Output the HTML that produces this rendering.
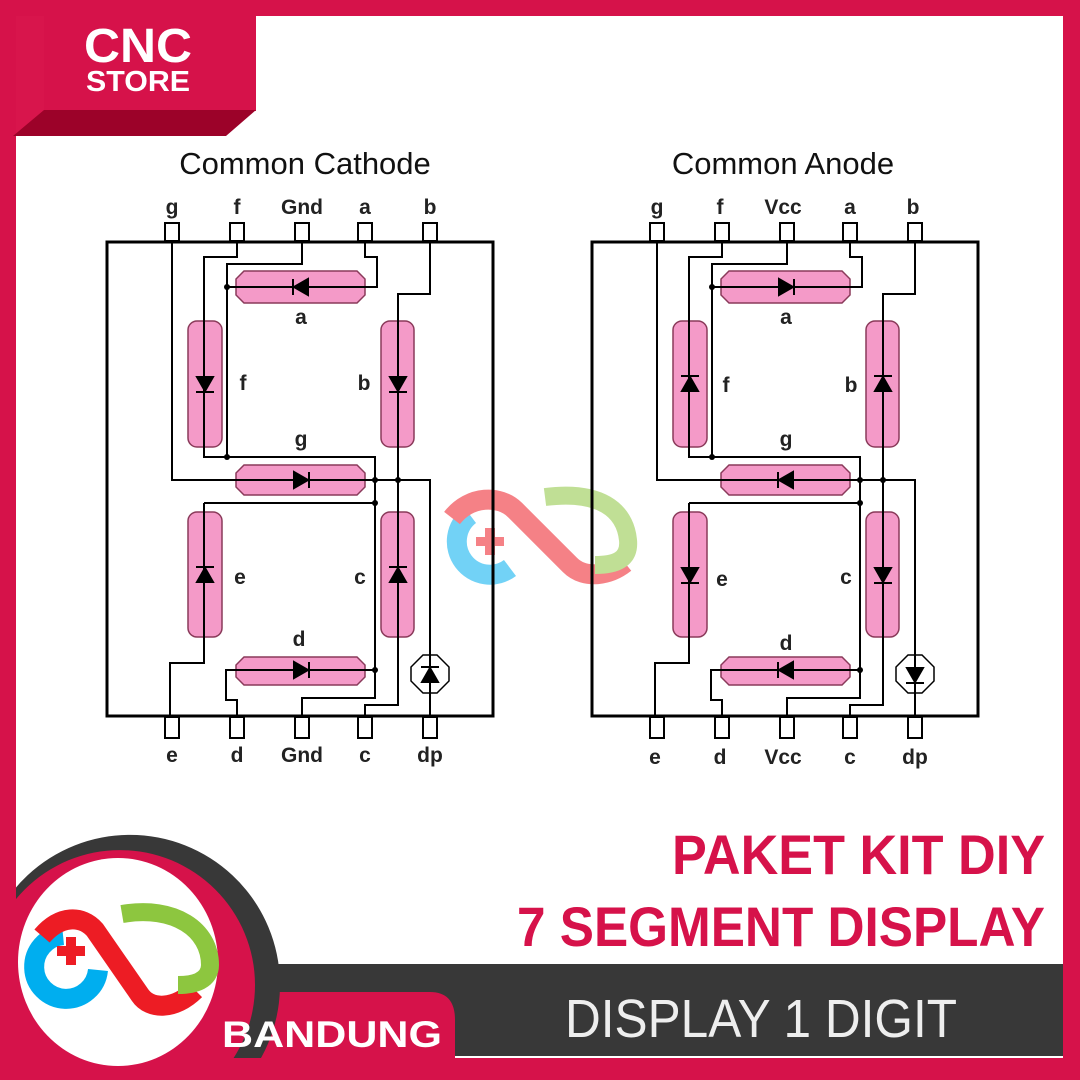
<!DOCTYPE html>
<html><head><meta charset="utf-8"><style>
html,body{margin:0;padding:0;background:#fff;width:1080px;height:1080px;overflow:hidden}
body{position:relative}
svg{position:absolute;left:0;top:0;display:block}
</style></head><body>
<svg width="1080" height="1080" viewBox="0 0 1080 1080" xmlns="http://www.w3.org/2000/svg">
<rect width="1080" height="1080" fill="#fff"/>
<rect x="0" y="0" width="1080" height="16" fill="#d6124a"/>
<rect x="0" y="0" width="16" height="1080" fill="#d6124a"/>
<rect x="1063" y="0" width="17" height="1080" fill="#d6124a"/>
<rect x="0" y="1058" width="1080" height="22" fill="#d6124a"/>
<rect x="16" y="16" width="30" height="120" fill="#d8154c"/>
<rect x="44" y="16" width="212" height="95" fill="#d6124a"/>
<polygon points="13,136 44,110 256,110 226,136" fill="#9c0229"/>
<text x="138" y="62" text-anchor="middle" font-family="Liberation Sans, sans-serif" font-weight="bold" font-size="48" fill="#fff" textLength="108" lengthAdjust="spacingAndGlyphs">CNC</text>
<text x="138" y="91" text-anchor="middle" font-family="Liberation Sans, sans-serif" font-weight="bold" font-size="29" fill="#fff" textLength="104" lengthAdjust="spacingAndGlyphs">STORE</text>

<g font-family="Liberation Sans, sans-serif" fill="#111">
<text x="305" y="174" text-anchor="middle" font-size="31">Common Cathode</text>
<text x="783" y="174" text-anchor="middle" font-size="31">Common Anode</text>
</g>

<g opacity="0.55">
<path d="M510,568 A27,27 0 1 1 470,515" fill="none" stroke="#00aeef" stroke-width="20"/>
<path d="M452,518 C470,495 500,495 515,510 L570,565 C585,580 610,575 625,563" fill="none" stroke="#ed1c24" stroke-width="20"/>
<path d="M545,497 C600,490 625,510 628,540 C630,560 615,565 595,565" fill="none" stroke="#8dc63f" stroke-width="18"/>
<rect x="476" y="537" width="28" height="9" fill="#ed1c24"/>
<rect x="485" y="528" width="10" height="27" fill="#ed1c24"/>
</g>

<defs>
<g id="w">
 <rect x="107" y="242" width="386" height="474" fill="none" stroke="#000" stroke-width="3"/>
 <g fill="#fff" stroke="#000" stroke-width="2">
  <rect x="165" y="223" width="14" height="18"/><rect x="230" y="223" width="14" height="18"/><rect x="295" y="223" width="14" height="18"/><rect x="358" y="223" width="14" height="18"/><rect x="423" y="223" width="14" height="18"/>
  <rect x="165" y="717" width="14" height="21"/><rect x="230" y="717" width="14" height="21"/><rect x="295" y="717" width="14" height="21"/><rect x="358" y="717" width="14" height="21"/><rect x="423" y="717" width="14" height="21"/>
 </g>
 <g fill="#f49ac8" stroke="#8a3a5a" stroke-width="1.5">
  <polygon points="244,271 357,271 365,279 365,295 357,303 244,303 236,295 236,279"/>
  <polygon points="244,465 357,465 365,473 365,487 357,495 244,495 236,487 236,473"/>
  <polygon points="244,657 357,657 365,665 365,677 357,685 244,685 236,677 236,665"/>
  <rect x="188" y="321" width="34" height="126" rx="9"/>
  <rect x="381" y="321" width="33" height="126" rx="9"/>
  <rect x="188" y="512" width="34" height="125" rx="9"/>
  <rect x="381" y="512" width="33" height="125" rx="9"/>
 </g>
 <g fill="none" stroke="#000" stroke-width="2">
  <polyline points="172,242 172,480 375,480"/>
  <polyline points="237,242 237,257 204,257 204,457 375,457 375,480"/>
  <polyline points="302,242 302,264 227,264 227,457"/>
  <line x1="227" y1="287" x2="365" y2="287"/>
  <polyline points="365,242 365,257 377,257 377,287 363,287"/>
  <polyline points="430,242 430,294 398,294 398,705 365,705 365,716"/>
  <polyline points="375,480 430,480 430,716"/>
  <polyline points="204,503 375,503"/>
  <polyline points="204,503 204,663 170,663 170,716"/>
  <line x1="236" y1="670" x2="375" y2="670"/>
  <polyline points="236,670 226,670 226,700 237,700 237,716"/>
  <polyline points="375,480 375,698 302,698 302,716"/>
 </g>
 <g fill="#000">
  <circle cx="227" cy="287" r="3"/><circle cx="227" cy="457" r="3"/><circle cx="375" cy="480" r="3"/><circle cx="398" cy="480" r="3"/><circle cx="375" cy="503" r="3"/><circle cx="375" cy="670" r="3"/>
 </g>
 <polygon points="423,655 437,655 449,667 449,681 437,693 423,693 411,681 411,667" fill="#fff" stroke="#000" stroke-width="1.5"/>
 <line x1="430" y1="655" x2="430" y2="693" stroke="#000" stroke-width="2"/>
</g>
</defs>
<use href="#w"/>
<use href="#w" x="485"/>

<g fill="#000" stroke="#000" stroke-width="2">
 <polygon points="308,279 308,295 294,287"/><line x1="293" y1="279" x2="293" y2="295"/>
 <polygon points="294,472 294,488 308,480"/><line x1="309" y1="472" x2="309" y2="488"/>
 <polygon points="294,662 294,678 308,670"/><line x1="309" y1="662" x2="309" y2="678"/>
 <polygon points="197,377 213,377 205,391"/><line x1="196" y1="392" x2="214" y2="392"/>
 <polygon points="390,377 406,377 398,391"/><line x1="389" y1="392" x2="407" y2="392"/>
 <polygon points="197,582 213,582 205,568"/><line x1="196" y1="567" x2="214" y2="567"/>
 <polygon points="390,582 406,582 398,568"/><line x1="389" y1="567" x2="407" y2="567"/>
 <polygon points="422,682 438,682 430,668"/><line x1="421" y1="667" x2="439" y2="667"/>
</g>
<g fill="#000" stroke="#000" stroke-width="2">
 <polygon points="779,279 779,295 793,287"/><line x1="794" y1="279" x2="794" y2="295"/>
 <polygon points="793,472 793,488 779,480"/><line x1="778" y1="472" x2="778" y2="488"/>
 <polygon points="793,662 793,678 779,670"/><line x1="778" y1="662" x2="778" y2="678"/>
 <polygon points="682,391 698,391 690,377"/><line x1="681" y1="376" x2="699" y2="376"/>
 <polygon points="875,391 891,391 883,377"/><line x1="874" y1="376" x2="892" y2="376"/>
 <polygon points="682,568 698,568 690,582"/><line x1="681" y1="583" x2="699" y2="583"/>
 <polygon points="875,568 891,568 883,582"/><line x1="874" y1="583" x2="892" y2="583"/>
 <polygon points="907,668 923,668 915,682"/><line x1="906" y1="683" x2="924" y2="683"/>
</g>

<g font-family="Liberation Sans, sans-serif" font-weight="bold" font-size="21" fill="#222" text-anchor="middle">
 <text x="172" y="214">g</text><text x="237" y="214">f</text><text x="302" y="214">Gnd</text><text x="365" y="214">a</text><text x="430" y="214">b</text>
 <text x="172" y="762">e</text><text x="237" y="762">d</text><text x="302" y="762">Gnd</text><text x="365" y="762">c</text><text x="430" y="762">dp</text>
 <text x="301" y="324">a</text><text x="243" y="390">f</text><text x="364" y="390">b</text><text x="301" y="446">g</text><text x="240" y="584">e</text><text x="360" y="584">c</text><text x="299" y="646">d</text>
 <text x="657" y="214">g</text><text x="720" y="214">f</text><text x="783" y="214">Vcc</text><text x="850" y="214">a</text><text x="913" y="214">b</text>
 <text x="655" y="764">e</text><text x="720" y="764">d</text><text x="783" y="764">Vcc</text><text x="850" y="764">c</text><text x="915" y="764">dp</text>
 <text x="786" y="324">a</text><text x="726" y="392">f</text><text x="851" y="392">b</text><text x="786" y="446">g</text><text x="722" y="586">e</text><text x="846" y="584">c</text><text x="786" y="650">d</text>
</g>

<rect x="230" y="964" width="833" height="92" fill="#383838"/>
<path d="M215,1060 L215,992 L430,992 Q455,992 455,1020 L455,1060 Z" fill="#d6124a"/>
<path d="M14,1080 A150,150 0 1 1 246,1080 Z" fill="#383838"/>
<path d="M24,1080 A135,135 0 1 1 216,1080 Z" fill="#d6124a"/>
<rect x="0" y="1058" width="1080" height="22" fill="#d6124a"/>
<rect x="0" y="800" width="16" height="280" fill="#d6124a"/>
<ellipse cx="118" cy="962" rx="100" ry="104" fill="#fff"/>
<g>
<path d="M98,970 A32,32 0 1 1 63,935" fill="none" stroke="#00aeef" stroke-width="20"/>
<path d="M42,936 C60,915 82,915 95,930 L140,995 C150,1010 175,1010 195,990" fill="none" stroke="#ed1c24" stroke-width="20"/>
<path d="M122,914 C175,905 210,930 210,965 C210,980 195,985 178,985" fill="none" stroke="#8dc63f" stroke-width="18"/>
<rect x="57" y="946" width="28" height="10" fill="#ed1c24"/>
<rect x="66" y="937" width="10" height="28" fill="#ed1c24"/>
</g>
<text x="222" y="1047" font-family="Liberation Sans, sans-serif" font-weight="bold" font-size="37" fill="#fff" textLength="220" lengthAdjust="spacingAndGlyphs">BANDUNG</text>
<text x="565" y="1037" font-family="Liberation Sans, sans-serif" font-size="54" fill="#eee" textLength="392" lengthAdjust="spacingAndGlyphs">DISPLAY 1 DIGIT</text>
<text x="1045" y="874" text-anchor="end" font-family="Liberation Sans, sans-serif" font-weight="bold" font-size="56" fill="#d6124a" textLength="373" lengthAdjust="spacingAndGlyphs">PAKET KIT DIY</text>
<text x="1045" y="946" text-anchor="end" font-family="Liberation Sans, sans-serif" font-weight="bold" font-size="56" fill="#d6124a" textLength="528" lengthAdjust="spacingAndGlyphs">7 SEGMENT DISPLAY</text>
</svg>
</body></html>
